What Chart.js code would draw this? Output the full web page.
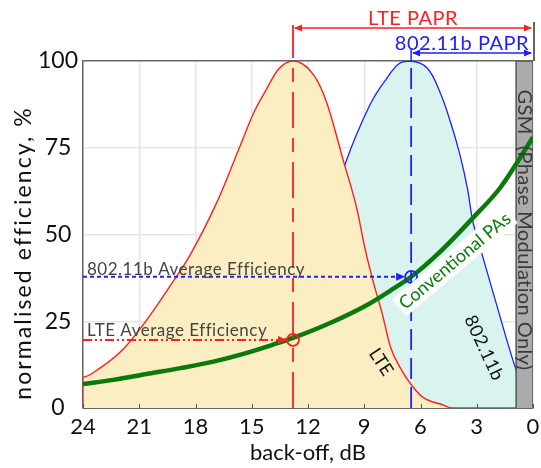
<!DOCTYPE html>
<html><head><meta charset="utf-8">
<script src="https://cdn.jsdelivr.net/npm/chart.js@4/dist/chart.umd.min.js"></script>
<style>html,body{margin:0;padding:0;background:#fff;}</style>
</head><body>
<canvas id="c" width="541" height="468"></canvas>
<script>
// ---- data ----
const backoffLTE = [24, 24, 23.1, 21.9, 20.6, 19.5, 18.3, 16.85, 15.6, 14.9, 14.2, 13.6, 12.8, 11.7, 11.0, 10.1, 9.4, 8.96, 8.5, 8.05, 7.6, 7.1, 6.56, 5.9, 4.8, 4.3, 0];
const effLTE     = [0, 8.9, 11.5, 16.7, 25.4, 34, 44, 59.4, 75.8, 85, 92, 97.5, 100, 96, 88, 71, 57.6, 46, 36, 27.4, 17.6, 11.8, 7.2, 3.2, 0.9, 0, 0];

const backoffWLAN = [24, 15, 13, 11.5, 10.0, 8.7, 7.8, 7.1, 6.5, 5.65, 4.96, 4.4, 3.9, 3.5, 3.2, 2.7, 1.9, 1.07, 0.5, 0];
const effWLAN     = [0, 0, 15, 45, 70.6, 87.3, 95, 99.4, 100, 98, 91, 82.4, 73, 63.4, 53.6, 44, 29, 13.8, 5, 0];

const backoffPA = [24, 22.4, 20.6, 18.8, 17.1, 15.3, 13.9, 12.8, 10.7, 8.85, 7.47, 6.5, 4.96, 3.2, 1.76, 0];
const effPA     = [6.9, 8.1, 9.8, 11.5, 13.3, 15.8, 18.2, 20.2, 24.8, 29.7, 34.3, 37.8, 45, 54.8, 63.4, 78];

const gsmBackoff = [0.9, 0];     // GSM band (dB)
const gsmEff = [0, 100];
const ltePAPR = 12.8, wlanPAPR = 6.5;        // dB
const lteAvgEff = 19.6, wlanAvgEff = 37.8;   // %

const FONT = 'Lato, "Open Sans", sans-serif';
const RED = '#ff1f1f', BLUE = '#2020ff', GREEN = '#0b7a0b';
const pts = (xs, ys) => xs.map((x, i) => ({x, y: ys[i]}));

const annot = {
  id: 'annot',
  afterDatasetsDraw(chart) {
    const {ctx, chartArea: ca, scales: {x, y}} = chart;
    const xl = x.getPixelForValue(ltePAPR), xw = x.getPixelForValue(wlanPAPR);
    const x0 = x.getPixelForValue(0), x24 = x.getPixelForValue(24);
    const yl = y.getPixelForValue(lteAvgEff), yw = y.getPixelForValue(wlanAvgEff);
    const r = 6;
    ctx.save();
    // bottom tick marks
    ctx.strokeStyle = '#555'; ctx.lineWidth = 1;
    x.ticks.forEach(t => { const px = Math.round(x.getPixelForValue(t.value)) + 0.5; ctx.beginPath(); ctx.moveTo(px, ca.bottom); ctx.lineTo(px, ca.bottom - 4); ctx.stroke(); });

    const tri = (tx, ty, dir, len, hw, col) => {
      ctx.fillStyle = col; ctx.beginPath();
      ctx.moveTo(tx, ty); ctx.lineTo(tx - dir * len, ty - hw); ctx.lineTo(tx - dir * len, ty + hw); ctx.closePath(); ctx.fill();
    };
    // vertical PAPR lines
    ctx.lineWidth = 1.8;
    ctx.strokeStyle = RED; ctx.setLineDash([36, 10, 14, 10]);
    ctx.beginPath(); ctx.moveTo(xl, ca.bottom); ctx.lineTo(xl, 25); ctx.stroke();
    ctx.strokeStyle = BLUE; ctx.setLineDash([21, 8]);
    ctx.beginPath(); ctx.moveTo(xw, ca.bottom); ctx.lineTo(xw, ca.top); ctx.stroke();
    ctx.setLineDash([]); ctx.lineWidth = 1.5;
    ctx.beginPath(); ctx.moveTo(xw, ca.top); ctx.lineTo(xw, 48); ctx.stroke();

    // horizontal average efficiency lines
    ctx.lineWidth = 2;
    ctx.strokeStyle = BLUE; ctx.setLineDash([4, 3]);
    ctx.beginPath(); ctx.moveTo(x24, yw); ctx.lineTo(xw - r - 6, yw); ctx.stroke();
    ctx.strokeStyle = RED; ctx.setLineDash([9, 3, 2, 3, 2, 3]);
    ctx.beginPath(); ctx.moveTo(x24, yl); ctx.lineTo(xl - r - 6, yl); ctx.stroke();
    ctx.setLineDash([]);
    tri(xw - r, yw, 1, 9, 4, BLUE);
    tri(xl - r, yl, 1, 9, 4, RED);
    ctx.lineWidth = 1.8;
    ctx.strokeStyle = BLUE; ctx.beginPath(); ctx.arc(xw, yw, r, 0, Math.PI * 2); ctx.stroke();
    ctx.strokeStyle = RED; ctx.beginPath(); ctx.arc(xl, yl, r, 0, Math.PI * 2); ctx.stroke();

    // top PAPR arrows
    ctx.lineWidth = 1.5;
    ctx.strokeStyle = '#333'; ctx.beginPath(); ctx.moveTo(x0 + 1, 22); ctx.lineTo(x0 + 1, ca.top); ctx.stroke();
    ctx.strokeStyle = RED; ctx.beginPath(); ctx.moveTo(xl + 2, 28); ctx.lineTo(x0 - 2, 28); ctx.stroke();
    tri(xl + 1, 28, -1, 8, 3.5, RED); tri(x0 - 1, 28, 1, 8, 3.5, RED);
    ctx.strokeStyle = BLUE; ctx.beginPath(); ctx.moveTo(xw + 2, 53); ctx.lineTo(x0 - 2, 53); ctx.stroke();
    tri(xw + 1, 53, -1, 8, 3.5, BLUE); tri(x0 - 1, 53, 1, 8, 3.5, BLUE);

    // texts
    const setLS = v => { if ('letterSpacing' in ctx) ctx.letterSpacing = v; };
    ctx.textBaseline = 'alphabetic';
    setLS('0.5px');
    ctx.font = '20px ' + FONT; ctx.fillStyle = RED; ctx.textAlign = 'center';
    ctx.fillText('LTE PAPR', (xl + x0) / 2, 25);
    ctx.fillStyle = BLUE; ctx.textAlign = 'right';
    ctx.fillText('802.11b PAPR', x0 - 4, 50);

    ctx.font = '17px ' + FONT; ctx.fillStyle = '#444'; ctx.textAlign = 'left';
    ctx.fillText('802.11b Average Efficiency', x24 + 4, yw - 2);
    ctx.fillText('LTE Average Efficiency', x24 + 4, yl - 4);

    const rot = (txt, cx, cy, ang, font, col, bg, ls) => {
      ctx.save(); ctx.translate(cx, cy); ctx.rotate(ang * Math.PI / 180);
      setLS(ls || '0px');
      ctx.font = font; ctx.textAlign = 'center'; ctx.textBaseline = 'middle';
      if (bg) { const w = ctx.measureText(txt).width; ctx.fillStyle = bg; ctx.fillRect(-w / 2 - 3, -11, w + 6, 22); }
      ctx.fillStyle = col; ctx.fillText(txt, 0, 0); ctx.restore();
    };
    rot('LTE', 381, 362, 57, '18px ' + FONT, '#111');
    rot('802.11b', 484, 348, 65, '18px ' + FONT, '#111', null, '0.5px');
    rot('Conventional PAs', 455, 261, -40, '18px ' + FONT, GREEN, '#fff');
    const xg = (x.getPixelForValue(gsmBackoff[0]) + x.getPixelForValue(gsmBackoff[1])) / 2;
    rot('GSM  (Phase Modulation Only)', xg, 230, 90, '20px ' + FONT, '#3a3a3a', null, '0.4px');
    rot('normalised efficiency, %', 24, 253, -90, '23px ' + FONT, '#111', null, '2.1px');
    ctx.restore();
  }
};

const curve = { showLine: true, pointRadius: 0, cubicInterpolationMode: 'monotone' };

new Chart(document.getElementById('c'), {
  type: 'scatter',
  data: { datasets: [
    { label: '802.11b', data: pts(backoffWLAN, effWLAN), showLine: true, pointRadius: 0, tension: 0.4,
      borderColor: BLUE, borderWidth: 1.3, backgroundColor: '#d9f3ef', fill: 'origin', order: 5 },
    Object.assign({ label: 'LTE', data: pts(backoffLTE, effLTE), borderColor: RED, borderWidth: 1.4,
      backgroundColor: '#fbeec2', fill: 'origin', order: 4 }, curve),
    { label: 'GSM', data: [{x: gsmBackoff[0], y: gsmEff[0]}, {x: gsmBackoff[0], y: gsmEff[1]}, {x: gsmBackoff[1], y: gsmEff[1]}, {x: gsmBackoff[1], y: gsmEff[0]}],
      showLine: true, borderColor: '#555', borderWidth: 1.5, backgroundColor: '#ababab', fill: 'origin', pointRadius: 0, tension: 0, order: 3 },
    Object.assign({ label: 'Conventional PAs', data: pts(backoffPA, effPA), borderColor: GREEN, borderWidth: 4.5,
      fill: false, order: 1 }, curve)
  ]},
  options: {
    animation: false, responsive: false, devicePixelRatio: 1,
    layout: { padding: { top: 61, right: 8, bottom: 0, left: 0 } },
    plugins: { legend: { display: false }, tooltip: { enabled: false } },
    scales: {
      x: { type: 'linear', reverse: true, min: 0, max: 24,
        ticks: { stepSize: 3, font: { family: FONT, size: 22 }, color: '#111', padding: 6, maxRotation: 0 },
        grid: { color: '#e6e6e6', lineWidth: 1.5, drawTicks: false },
        border: { display: true, color: '#666' },
        title: { display: true, text: 'back-off, dB', font: { family: FONT, size: 22 }, color: '#111', padding: { top: 0, bottom: 2 } },
        afterFit: s => { s.height = 60; s.paddingLeft = 0; s.paddingRight = 0; } },
      y: { min: 0, max: 100,
        ticks: { stepSize: 25, font: { family: FONT, size: 23 }, color: '#111', crossAlign: 'center', padding: 5 },
        grid: { color: c => c.tick && c.tick.value === 100 ? '#666' : '#e6e6e6', lineWidth: 1.5, drawTicks: false },
        border: { display: true, color: '#666', width: 1.5 },
        afterFit: s => { s.width = 83; } }
    }
  },
  plugins: [annot]
});
</script>
</body></html>
